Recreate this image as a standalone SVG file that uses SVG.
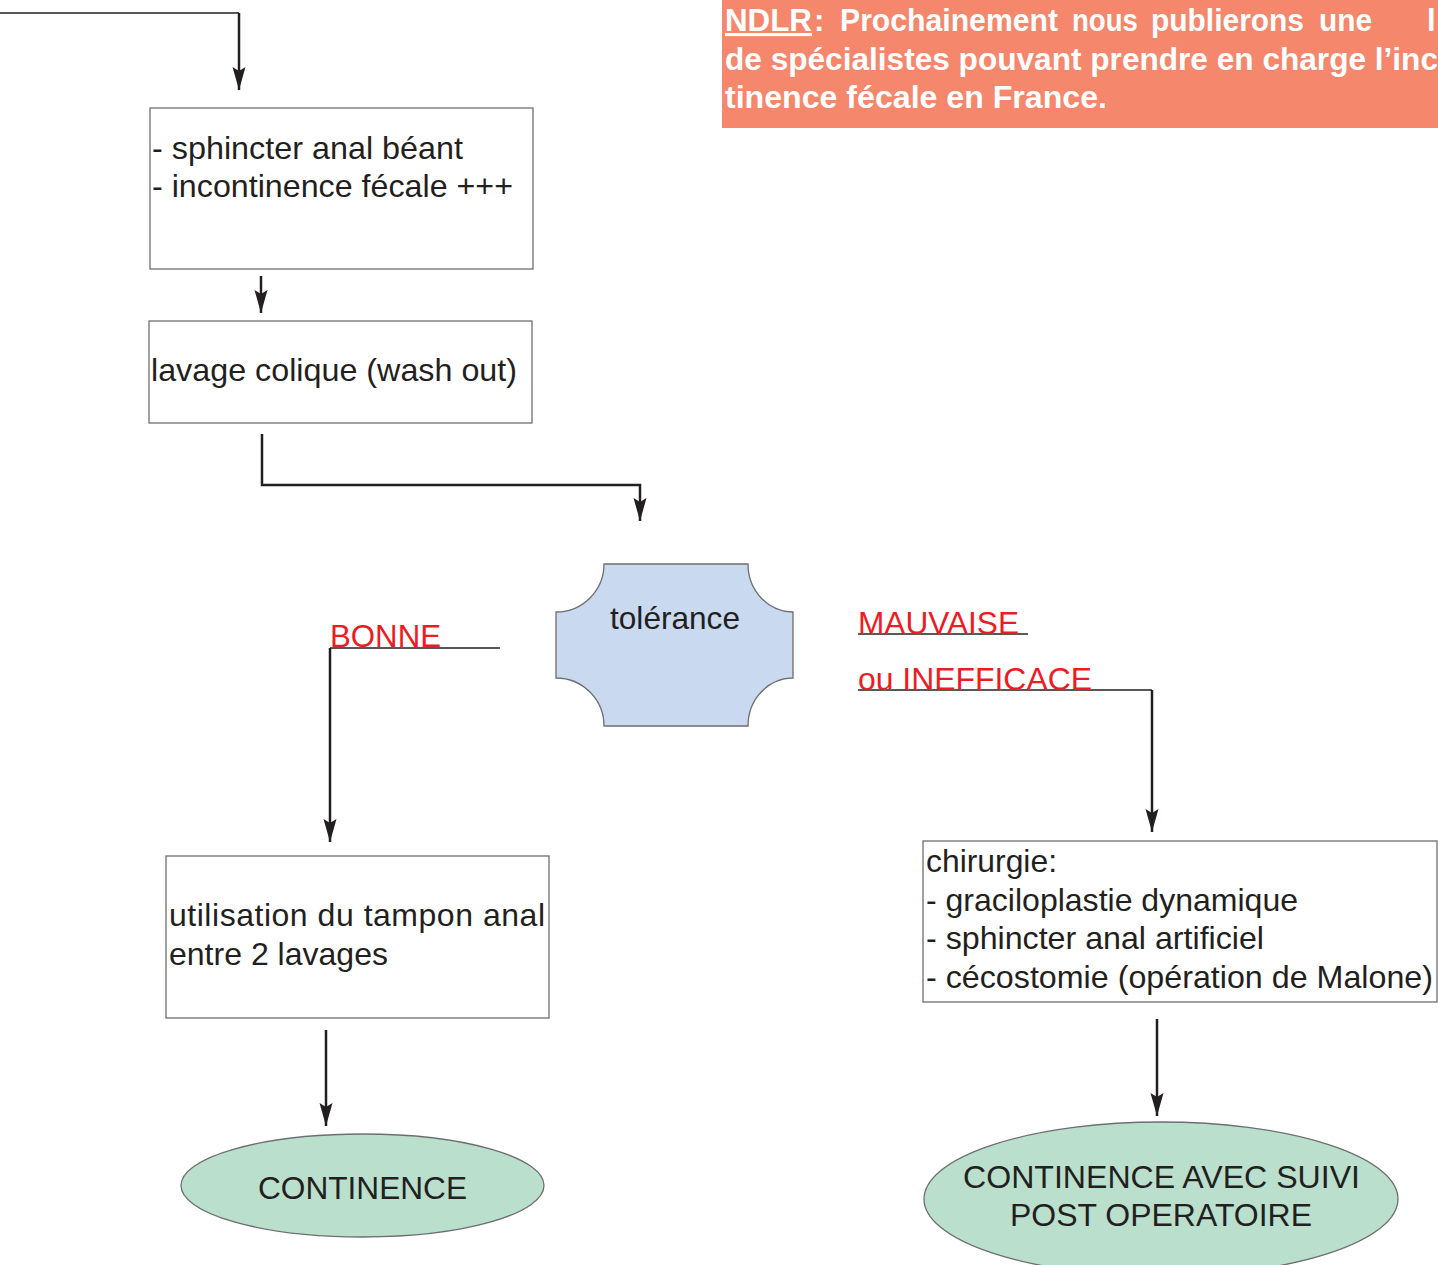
<svg xmlns="http://www.w3.org/2000/svg" width="1438" height="1265" viewBox="0 0 1438 1265">
<style>
.box{fill:#fff;stroke:#6d6e71;stroke-width:1.3}
.term{fill:#badfcd;stroke:#6d6e71;stroke-width:1.3}
.t{font-family:"Liberation Sans",Arial,sans-serif;font-size:32px;fill:#231f20}
.red{font-family:"Liberation Sans",Arial,sans-serif;font-size:32px;fill:#ed1c24}
.ndlr{font-family:"Liberation Sans",Arial,sans-serif;font-size:31px;font-weight:bold;fill:#fff}
.c{fill:none;stroke:#231f20;stroke-width:2.5}
.thin{fill:none;stroke:#231f20;stroke-width:1.3}
</style>
<defs>
<marker id="ah" markerUnits="userSpaceOnUse" markerWidth="24" markerHeight="14" refX="23" refY="6.5" orient="auto">
<path d="M0,0 L23,6.5 L0,13 L4,6.5 z" fill="#231f20"/>
</marker>
</defs>
<rect width="1438" height="1265" fill="#fff"/>

<g id="ndlr">
<rect x="722" y="0" width="716" height="128" fill="#f5876c"/>
<text class="ndlr" y="31" lengthAdjust="spacingAndGlyphs"><tspan x="725" text-decoration="underline" textLength="87" lengthAdjust="spacingAndGlyphs">NDLR</tspan><tspan x="814">:</tspan><tspan x="840" textLength="218" lengthAdjust="spacingAndGlyphs">Prochainement</tspan><tspan x="1072" textLength="66" lengthAdjust="spacingAndGlyphs">nous</tspan><tspan x="1151" textLength="153" lengthAdjust="spacingAndGlyphs">publierons</tspan><tspan x="1319" textLength="53" lengthAdjust="spacingAndGlyphs">une</tspan><tspan x="1427">l</tspan></text>
<text class="ndlr" x="725" y="70" textLength="713" lengthAdjust="spacingAndGlyphs">de spécialistes pouvant prendre en charge l’inc</text>
<text class="ndlr" x="725" y="108" textLength="382" lengthAdjust="spacingAndGlyphs">tinence fécale en France.</text>
</g>

<g id="connectors">
<path class="thin" d="M0,13 H239"/>
<path class="c" d="M239,13 V90" marker-end="url(#ah)"/>
<path class="c" d="M261,276 V313" marker-end="url(#ah)"/>
<path class="c" d="M262,434 V485 H640 V521" marker-end="url(#ah)"/>
<path class="thin" d="M330,648 H500"/>
<path class="c" d="M330,648 V842" marker-end="url(#ah)"/>
<path class="thin" d="M858,634 H1028"/>
<path class="thin" d="M858,690 H1152"/>
<path class="c" d="M1152,690 V832" marker-end="url(#ah)"/>
<path class="c" d="M326,1030 V1126" marker-end="url(#ah)"/>
<path class="c" d="M1157,1019 V1116" marker-end="url(#ah)"/>
</g>

<g id="n1">
<rect class="box" x="150" y="108" width="383" height="161"/>
<text class="t" x="152" y="159" textLength="311" lengthAdjust="spacingAndGlyphs">- sphincter anal béant</text>
<text class="t" x="152" y="197" textLength="361" lengthAdjust="spacingAndGlyphs">- incontinence fécale +++</text>
</g>

<g id="n2">
<rect class="box" x="149" y="321" width="383" height="102"/>
<text class="t" x="151" y="381" textLength="366" lengthAdjust="spacingAndGlyphs">lavage colique (wash out)</text>
</g>

<g id="n3">
<path d="M604,564 H748 A45,48 0 0 0 793,612 V678 A45,48 0 0 0 748,726 H604 A48,48 0 0 0 556,678 V612 A48,48 0 0 0 604,564 Z" fill="#c9d9ef" stroke="#6d6e71" stroke-width="1.3"/>
<text class="t" x="610" y="629" textLength="130" lengthAdjust="spacingAndGlyphs">tolérance</text>
</g>

<g id="lbl-bonne">
<text class="red" x="330" y="647" textLength="111" lengthAdjust="spacingAndGlyphs">BONNE</text>
</g>
<g id="lbl-mauvaise">
<text class="red" x="858" y="634" textLength="161" lengthAdjust="spacingAndGlyphs">MAUVAISE</text>
<text class="red" x="858" y="690" textLength="234" lengthAdjust="spacingAndGlyphs">ou INEFFICACE</text>
</g>

<g id="n4">
<rect class="box" x="166" y="856" width="383" height="162"/>
<text class="t" x="169" y="926" textLength="376" lengthAdjust="spacing">utilisation du tampon anal</text>
<text class="t" x="169" y="965" textLength="219" lengthAdjust="spacingAndGlyphs">entre 2 lavages</text>
</g>

<g id="n5">
<rect class="box" x="923" y="841" width="514" height="161"/>
<text class="t" x="926" y="872" textLength="131" lengthAdjust="spacingAndGlyphs">chirurgie:</text>
<text class="t" x="926" y="911" textLength="372" lengthAdjust="spacingAndGlyphs">- graciloplastie dynamique</text>
<text class="t" x="926" y="949" textLength="338" lengthAdjust="spacingAndGlyphs">- sphincter anal artificiel</text>
<text class="t" x="926" y="988" textLength="507" lengthAdjust="spacingAndGlyphs">- cécostomie (opération de Malone)</text>
</g>

<g id="n6">
<ellipse class="term" cx="362.5" cy="1185.5" rx="181.5" ry="51.5"/>
<text class="t" x="258" y="1199" textLength="209" lengthAdjust="spacingAndGlyphs">CONTINENCE</text>
</g>

<g id="n7">
<ellipse class="term" cx="1161" cy="1199" rx="237" ry="77"/>
<text class="t" x="963" y="1188" textLength="397" lengthAdjust="spacingAndGlyphs">CONTINENCE AVEC SUIVI</text>
<text class="t" x="1010" y="1226" textLength="302" lengthAdjust="spacingAndGlyphs">POST OPERATOIRE</text>
</g>
</svg>
